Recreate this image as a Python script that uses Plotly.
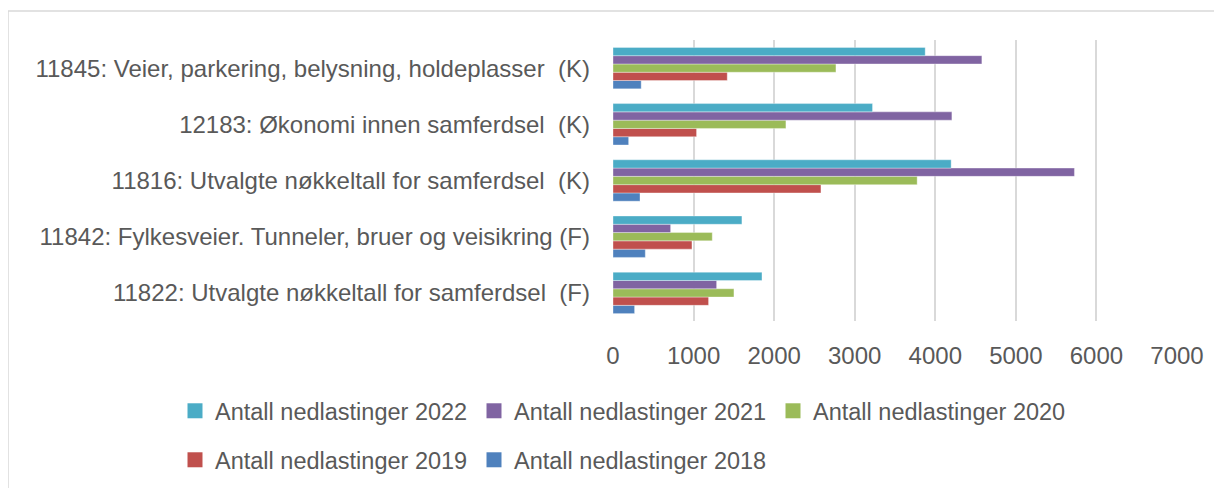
import plotly.graph_objects as go

categories = [
    "11822: Utvalgte nøkkeltall for samferdsel  (F)",
    "11842: Fylkesveier. Tunneler, bruer og veisikring (F)",
    "11816: Utvalgte nøkkeltall for samferdsel  (K)",
    "12183: Økonomi innen samferdsel  (K)",
    "11845: Veier, parkering, belysning, holdeplasser  (K)",
]
series_names = [
    "Antall nedlastinger 2018",
    "Antall nedlastinger 2019",
    "Antall nedlastinger 2020",
    "Antall nedlastinger 2021",
    "Antall nedlastinger 2022",
]
v2018 = [268, 401, 335, 194, 350]
v2019 = [1186, 980, 2581, 1037, 1418]
v2020 = [1501, 1232, 3775, 2146, 2767]
v2021 = [1286, 715, 5727, 4206, 4578]
v2022 = [1849, 1600, 4197, 3221, 3875]
values = [v2018, v2019, v2020, v2021, v2022]
colors = ["#4F81BD", "#C0504D", "#9BBB59", "#8064A2", "#4BACC6"]
legend_ids = ["legend2", "legend2", "legend", "legend", "legend"]
x_ticks = [0, 1000, 2000, 3000, 4000, 5000, 6000, 7000]

FONT = "Liberation Sans"
TXT = "#595959"
FS = 24
FS_LEG = 23.5

fig = go.Figure()
for name, vals, col, lg in zip(series_names, values, colors, legend_ids):
    fig.add_trace(go.Bar(
        y=categories, x=vals, name=name, orientation="h",
        marker=dict(color=col, line=dict(color="rgba(255,255,255,0.35)", width=1)),
        showlegend=False,
    ))
# legend-only entries (square swatches)
for name, col, lg in zip(series_names, colors, legend_ids):
    fig.add_trace(go.Scatter(
        x=[None], y=[None], mode="markers", name=name,
        marker=dict(symbol="square", size=15, color=col),
        legend=lg, hoverinfo="skip",
    ))

# page body has an 8px margin; figure drawn at (8, 8)
OFF = 8
W, H = 1222 - OFF, 488 - OFF
ml, mr, mt, mb = 613 - OFF, 45, 40 - OFF, 167
pw, ph = W - ml - mr, H - mt - mb

def px_x(x):
    return (x - OFF - ml) / pw

def px_y(y):
    return (H - mb - (y - OFF)) / ph

legend_common = dict(
    orientation="h", xanchor="left", yanchor="middle",
    traceorder="reversed", entrywidth=254, entrywidthmode="pixels",
    itemsizing="trace",
    font=dict(family=FONT, size=FS_LEG, color=TXT), bgcolor="rgba(0,0,0,0)",
)

fig.update_layout(
    template="none",
    width=W, height=H,
    margin=dict(l=ml, r=mr, t=mt, b=mb, autoexpand=False),
    paper_bgcolor="white", plot_bgcolor="white",
    barmode="group", bargap=0.263, bargroupgap=0,
    font=dict(family=FONT, size=FS, color=TXT),
    xaxis=dict(
        range=[0, 7000], tickvals=x_ticks, showgrid=True, gridcolor="#d9d9d9",
        gridwidth=1.5, zeroline=False, showline=False, ticks="",
        ticklabelstandoff=18, tickfont=dict(family=FONT, size=FS, color=TXT),
        automargin=False, fixedrange=True,
    ),
    yaxis=dict(
        type="category", categoryorder="array", categoryarray=categories,
        showgrid=False, zeroline=False, showline=False, ticks="",
        ticklabelstandoff=22, tickfont=dict(family=FONT, size=FS, color=TXT),
        automargin=False, fixedrange=True,
    ),
    legend=dict(x=px_x(175), y=px_y(411), **legend_common),
    legend2=dict(x=px_x(175), y=px_y(460), **legend_common),
    shapes=[dict(
        type="rect", xref="paper", yref="paper",
        x0=px_x(8), x1=px_x(1240), y0=px_y(11), y1=px_y(500),
        line=dict(color="#d9d9d9", width=1.5), fillcolor="rgba(0,0,0,0)", layer="below",
    )],
)

fig.write_html("out.html")
